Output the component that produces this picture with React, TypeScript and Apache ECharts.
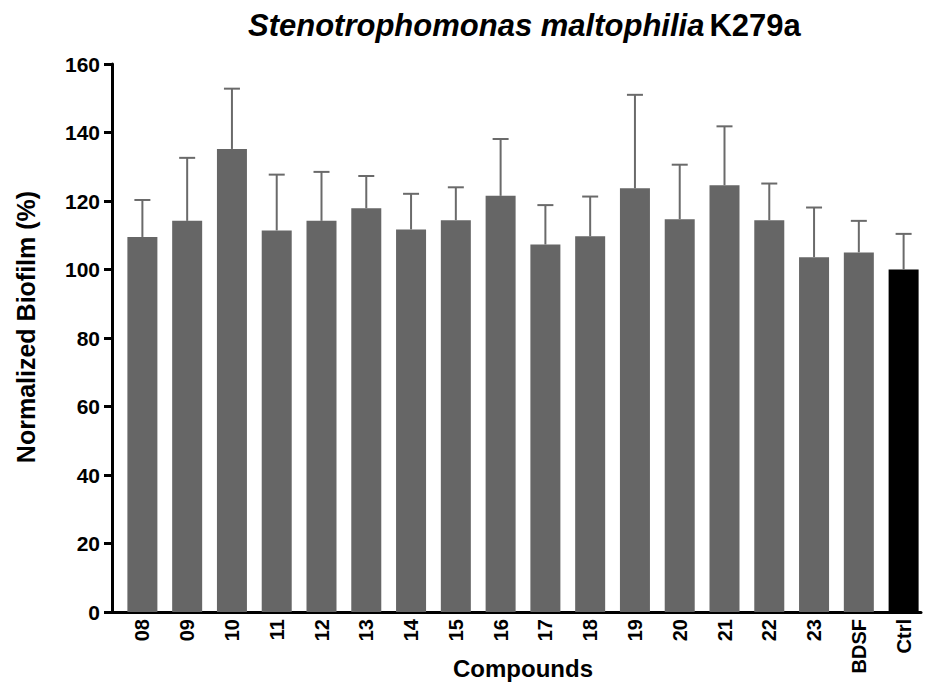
import React, { useEffect, useRef } from "react";
import * as echarts from "echarts";

const categories = ["08", "09", "10", "11", "12", "13", "14", "15", "16", "17", "18", "19", "20", "21", "22", "23", "BDSF", "Ctrl"];
const means = [109.5, 114.2, 135.2, 111.4, 114.2, 117.9, 111.7, 114.4, 121.5, 107.3, 109.7, 123.7, 114.7, 124.6, 114.4, 103.6, 105.0, 100.0];
const upperErr = [120.3, 132.6, 152.8, 127.7, 128.5, 127.3, 122.1, 124.0, 138.1, 118.8, 121.3, 151.0, 130.6, 141.8, 125.1, 118.1, 114.2, 110.4];
const yTicks = { min: 0, max: 160, interval: 20 };

const FONT = "'Liberation Sans', Arial, Helvetica, sans-serif";

export default function App() {
  const ref = useRef<HTMLDivElement>(null);
  useEffect(() => {
    document.body.style.margin = "0";
    const chart = echarts.init(ref.current!, null, { renderer: "svg" });
    const barData = means.map((v, i) => ({
      value: v,
      itemStyle: { color: categories[i] === "Ctrl" ? "#000000" : "#666666" },
    }));
    const errData = means.map((v, i) => [i, v, upperErr[i]]);
    chart.setOption({
      animation: false,
      backgroundColor: "#ffffff",
      textStyle: { fontFamily: FONT },
      title: {
        left: 243,
        top: 5,
        text: "{a|Stenotrophomonas maltophilia} {b|K279a}",
        textStyle: {
          rich: {
            a: { fontFamily: FONT, fontSize: 31, fontWeight: "bold", fontStyle: "italic", color: "#000" },
            b: { fontFamily: FONT, fontSize: 31, fontWeight: "bold", color: "#000" },
          },
        },
      },
      grid: [
        { left: 120, right: 0, top: 64, bottom: 71, outerBoundsMode: "none", containLabel: false },
        { left: 111, right: 5, top: 64, bottom: 71, outerBoundsMode: "none", containLabel: false },
      ],
      xAxis: [
        {
          type: "category",
          gridIndex: 0,
          data: categories,
          axisLine: { show: false },
          axisTick: { show: false },
          axisLabel: {
            rotate: 90,
            margin: 7,
            color: "#000",
            fontFamily: FONT,
            fontSize: 20,
            fontWeight: "bold",
            interval: 0,
          },
          name: "Compounds",
          nameLocation: "middle",
          nameGap: 44,
          nameMoveOverlap: false,
          nameTextStyle: { color: "#000", fontFamily: FONT, fontSize: 24, fontWeight: "bold" },
        },
        {
          type: "value",
          gridIndex: 1,
          min: 0,
          max: 1,
          axisLine: { show: true, lineStyle: { color: "#000", width: 3 } },
          axisTick: { show: false },
          axisLabel: { show: false },
          splitLine: { show: false },
        },
      ],
      yAxis: [
        {
          type: "value",
          gridIndex: 0,
          min: yTicks.min,
          max: yTicks.max,
          interval: yTicks.interval,
          offset: 8,
          axisLine: { show: true, lineStyle: { color: "#000", width: 3 } },
          axisTick: { show: true, length: 8, lineStyle: { color: "#000", width: 3 } },
          axisLabel: { margin: 12, color: "#000", fontFamily: FONT, fontSize: 21, fontWeight: "bold" },
          splitLine: { show: false },
          name: "Normalized Biofilm (%)",
          nameLocation: "middle",
          nameGap: 74,
          nameMoveOverlap: false,
          nameTextStyle: { color: "#000", fontFamily: FONT, fontSize: 25, fontWeight: "bold", padding: [0, 0, 0, 22] },
        },
        {
          type: "value",
          gridIndex: 1,
          show: false,
          min: 0,
          max: 1,
        },
      ],
      series: [
        {
          type: "bar",
          xAxisIndex: 0,
          yAxisIndex: 0,
          data: barData,
          barWidth: 30,
          z: 2,
        },
        {
          type: "custom",
          xAxisIndex: 0,
          yAxisIndex: 0,
          data: errData,
          z: 3,
          renderItem: (params: any, api: any) => {
            const base = api.coord([api.value(0), api.value(1)]);
            const top = api.coord([api.value(0), api.value(2)]);
            const half = 8;
            const style = { stroke: "#6a6a6a", lineWidth: 2 };
            return {
              type: "group",
              children: [
                { type: "line", shape: { x1: base[0], y1: base[1], x2: top[0], y2: top[1] }, style },
                { type: "line", shape: { x1: top[0] - half, y1: top[1], x2: top[0] + half, y2: top[1] }, style },
              ],
            };
          },
        },
      ],
    });
    return () => chart.dispose();
  }, []);
  return <div ref={ref} style={{ position: "absolute", left: 0, top: 0, width: 926, height: 683 }} />;
}
